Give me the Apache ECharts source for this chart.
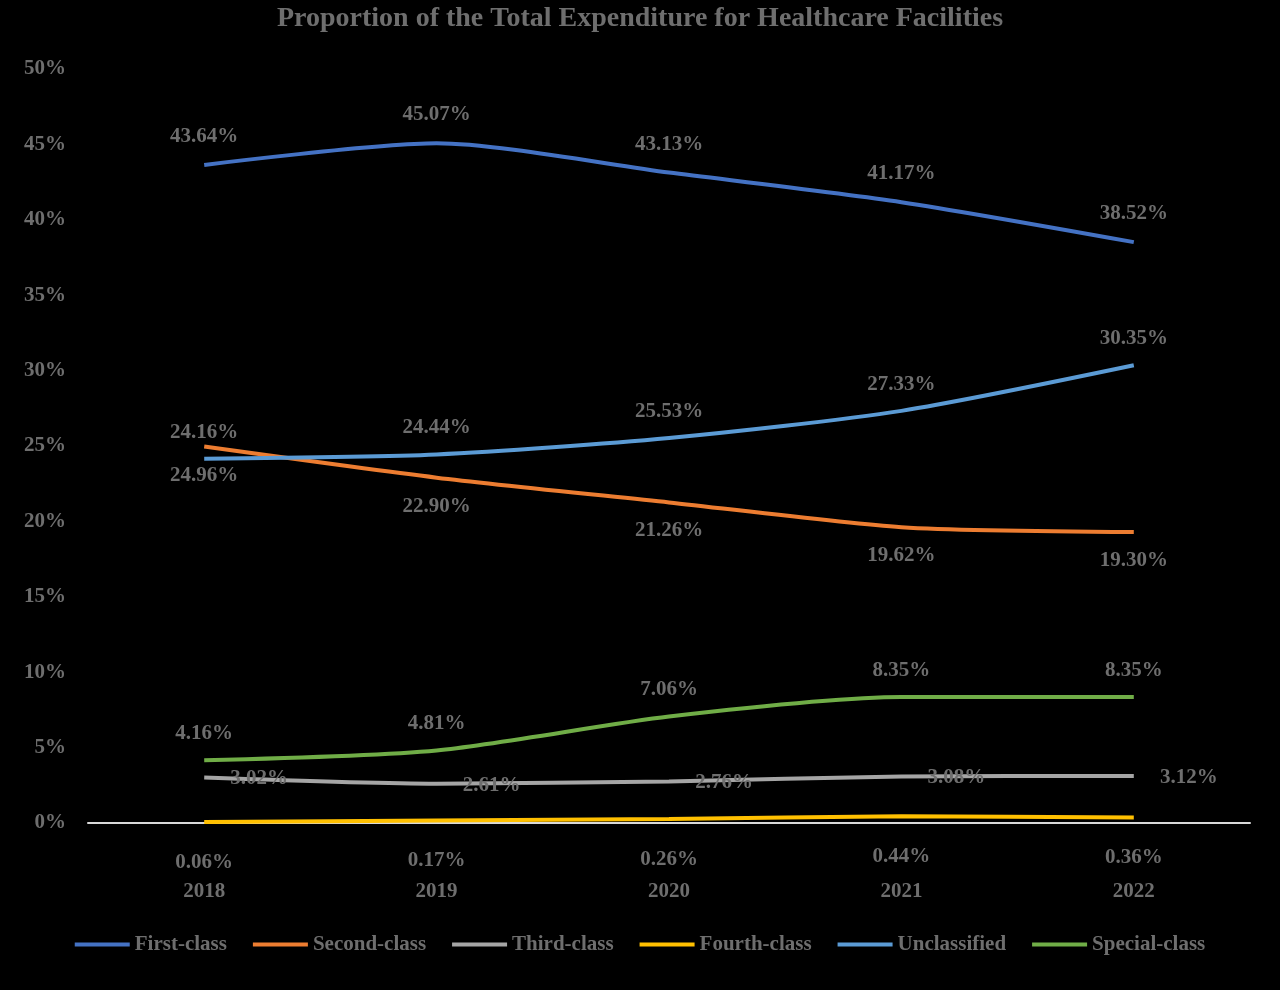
<!DOCTYPE html><html><head><meta charset="utf-8"><script src="https://cdn.jsdelivr.net/npm/echarts@6/dist/echarts.min.js"></script>
<style>html,body{margin:0;background:#000}#c{width:1280px;height:990px}</style></head><body><div id="c"></div><script>
const years=['2018','2019','2020','2021','2022'];
const firstClass=[43.64,45.07,43.13,41.17,38.52];
const secondClass=[24.96,22.90,21.26,19.62,19.30];
const thirdClass=[3.02,2.61,2.76,3.08,3.12];
const fourthClass=[0.06,0.17,0.26,0.44,0.36];
const unclassified=[24.16,24.44,25.53,27.33,30.35];
const specialClass=[4.16,4.81,7.06,8.35,8.35];
const yTicks=[0,5,10,15,20,25,30,35,40,45,50];
const font='"Liberation Serif","Times New Roman",serif';
const lblColor='#6e6e6e';
function s(name,data,color,pos,offset){return {name,type:'line',data,smooth:0.25,symbol:'circle',symbolSize:0,showSymbol:true,
 lineStyle:{width:4,color},itemStyle:{color},
 label:{show:true,position:pos,offset,distance:8,formatter:p=>p.value.toFixed(2)+'%',color:lblColor,fontFamily:font,fontWeight:'bold',fontSize:21}};}
const chart=echarts.init(document.getElementById('c'));
chart.setOption({backgroundColor:'#000',animation:false,
 title:{text:'Proportion of the Total Expenditure for Healthcare Facilities',left:'center',top:0,textStyle:{color:'#6e6e6e',fontFamily:font,fontWeight:'bold',fontSize:28}},
 legend:{bottom:30,left:'center',itemWidth:55,itemHeight:4,itemGap:26,icon:'rect',textStyle:{color:'#6e6e6e',fontFamily:font,fontWeight:'bold',fontSize:21}},
 grid:{left:88,right:30,top:69,bottom:167},
 xAxis:{type:'category',data:years,axisLine:{lineStyle:{color:'#d9d9d9',width:2}},axisTick:{show:false},
  axisLabel:{color:'#6e6e6e',fontFamily:font,fontWeight:'bold',fontSize:21,margin:58}},
 yAxis:{type:'value',min:0,max:50,interval:5,splitLine:{show:false},axisLine:{show:false},axisTick:{show:false},
  axisLabel:{color:'#6e6e6e',fontFamily:font,fontWeight:'bold',fontSize:21,margin:22,formatter:v=>yTicks.includes(v)?v+'%':''}},
 series:[
  s('First-class',firstClass,'#4472c4','top',[0,-10]),
  s('Second-class',secondClass,'#ed7d31','bottom',[0,10]),
  s('Third-class',thirdClass,'#a5a5a5','top',[55,20]),
  s('Fourth-class',fourthClass,'#ffc000','bottom',[0,22]),
  s('Unclassified',unclassified,'#5b9bd5','top',[0,-8]),
  s('Special-class',specialClass,'#70ad47','top',[0,-8])
 ]});
</script></body></html>
